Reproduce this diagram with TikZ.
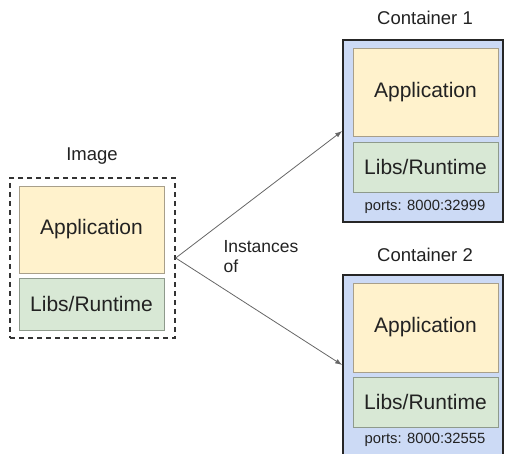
\documentclass[tikz,border=0pt]{standalone}
\usepackage{fontspec}
\setmainfont{Liberation Sans}
\usetikzlibrary{arrows.meta}
\definecolor{appfill}{HTML}{FFF2CC}
\definecolor{appline}{HTML}{A89F8A}
\definecolor{libfill}{HTML}{D8E8D5}
\definecolor{libline}{HTML}{8E9A8C}
\definecolor{ctrfill}{HTML}{CCDAF5}
\definecolor{txt}{HTML}{222222}
\tikzset{
  layer/.style={draw, line width=0.9pt, inner sep=0pt, minimum width=145pt,
    font=\fontsize{21}{24}\selectfont, text=txt},
  applayer/.style={layer, fill=appfill, draw=appline},
  liblayer/.style={layer, fill=libfill, draw=libline},
  ctrbox/.style={draw=black!85, line width=1.6pt, fill=ctrfill, inner sep=0pt,
    minimum width=160pt},
  imgbox/.style={draw=black!80, line width=1.4pt, dash pattern=on 5pt off 4pt,
    inner sep=0pt, minimum width=165pt, minimum height=160pt},
  title/.style={font=\fontsize{18.5}{22}\selectfont, text=txt},
  portlbl/.style={font=\fontsize{14.8}{17}\selectfont, text=txt},
  link/.style={draw=black!60, line width=0.8pt, -{Latex[length=7pt,width=5pt]}}
}
\begin{document}
\begin{tikzpicture}[x=1pt,y=-1pt]
  \useasboundingbox (0,0) rectangle (507,454);
  \clip (0,0) rectangle (507,454);

  % image
  \node[imgbox] (img) at (92.5,258) {};
  \node[applayer, minimum height=87pt] (imgapp) at (91.5,229.5) {Application};
  \node[liblayer, minimum height=52pt] (imglib) at (91.5,304) {Libs/Runtime};
  \node[title] (imgtitle) at (92,156) {Image};

  % container 1
  \node[ctrbox, minimum height=182pt] (c1) at (423,131) {};
  \node[applayer, minimum height=88pt] (c1app) at (425.5,92) {Application};
  \node[liblayer, minimum height=50pt] (c1lib) at (425.5,167) {Libs/Runtime};
  \node[portlbl] (c1port) at (425,207) {ports: 8000:32999};
  \node[title] (c1title) at (425,18) {Container 1};

  % container 2 (runs past the lower edge)
  \node[ctrbox, minimum height=180pt] (c2) at (423,365) {};
  \node[applayer, minimum height=89pt] (c2app) at (425.5,327.5) {Application};
  \node[liblayer, minimum height=50pt] (c2lib) at (425.5,402) {Libs/Runtime};
  \node[portlbl] (c2port) at (425,440) {ports: 8000:32555};
  \node[title] (c2title) at (425,255) {Container 2};

  % instance links
  \draw[link] (img.east) -- (c1.west);
  \draw[link] (img.east) -- (c2.west);
  \node[title, font=\fontsize{17.5}{20}\selectfont, align=left, anchor=north west]
    (inst) at (220,237) {Instances\\of};
\end{tikzpicture}
\end{document}
